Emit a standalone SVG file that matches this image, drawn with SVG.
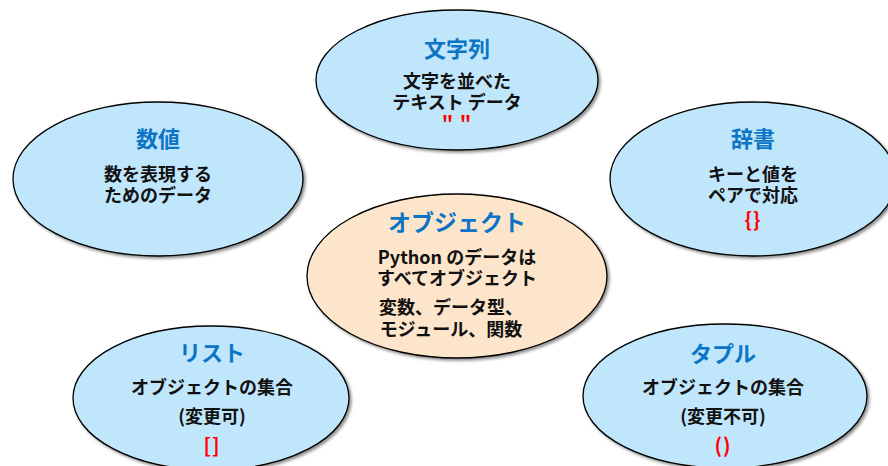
<svg xmlns="http://www.w3.org/2000/svg" width="888" height="466" viewBox="0 0 888 466">
<defs>
<filter id="sh" x="-10%" y="-10%" width="125%" height="125%">
<feDropShadow dx="2" dy="2" stdDeviation="1.5" flood-color="#000" flood-opacity="0.45"/>
</filter>
<style>
.e{fill:#C0E6FC;stroke:#000;stroke-width:1.3;filter:url(#sh)}
.c{fill:#FCE5CA;stroke:#000;stroke-width:1.3;filter:url(#sh)}
text{font-family:"Noto Sans CJK JP","Noto Sans",sans-serif;font-weight:bold;text-anchor:middle}
.t{fill:#0B74C4;font-size:22px}
.tc{fill:#0B74C4;font-size:23px}
.b{fill:#111;font-size:18px}
.r{fill:#F00;font-size:20px;letter-spacing:1px}
</style>
</defs>
<rect width="888" height="466" fill="#fff"/>
<g id="connectors"></g>
<g id="string">
<ellipse class="e" cx="457" cy="80" rx="141" ry="70"/>
<text class="t" x="457" y="57">文字列</text>
<text class="b" x="457" y="88">文字を並べた</text>
<text class="b" x="457" y="109">テキスト データ</text>
<text class="r" x="457" y="131">"  "</text>
</g>
<g id="number">
<ellipse class="e" cx="158" cy="179" rx="145" ry="77"/>
<text class="t" x="158" y="147">数値</text>
<text class="b" x="158" y="181">数を表現する</text>
<text class="b" x="158" y="202">ためのデータ</text>
</g>
<g id="dict">
<ellipse class="e" cx="753" cy="179" rx="143" ry="77"/>
<text class="t" x="753" y="147">辞書</text>
<text class="b" x="753" y="181">キーと値を</text>
<text class="b" x="753" y="202">ペアで対応</text>
<text class="r" x="753" y="227">{}</text>
</g>
<g id="object">
<ellipse class="c" cx="457" cy="276" rx="150" ry="82"/>
<text class="tc" x="457" y="231">オブジェクト</text>
<text class="b" x="457" y="264">Python のデータは</text>
<text class="b" x="457" y="285">すべてオブジェクト</text>
<text class="b" x="451" y="314">変数、データ型、</text>
<text class="b" x="451" y="336">モジュール、関数</text>
</g>
<g id="list">
<ellipse class="e" cx="211" cy="398" rx="138" ry="72"/>
<text class="t" x="212" y="361">リスト</text>
<text class="b" x="212" y="394">オブジェクトの集合</text>
<text class="b" x="212" y="423">(変更可)</text>
<text class="r" x="212" y="453">[]</text>
</g>
<g id="tuple">
<ellipse class="e" cx="725" cy="396" rx="142" ry="72"/>
<text class="t" x="723" y="362">タプル</text>
<text class="b" x="723" y="394">オブジェクトの集合</text>
<text class="b" x="723" y="423">(変更不可)</text>
<text class="r" x="723" y="453">()</text>
</g>
</svg>
